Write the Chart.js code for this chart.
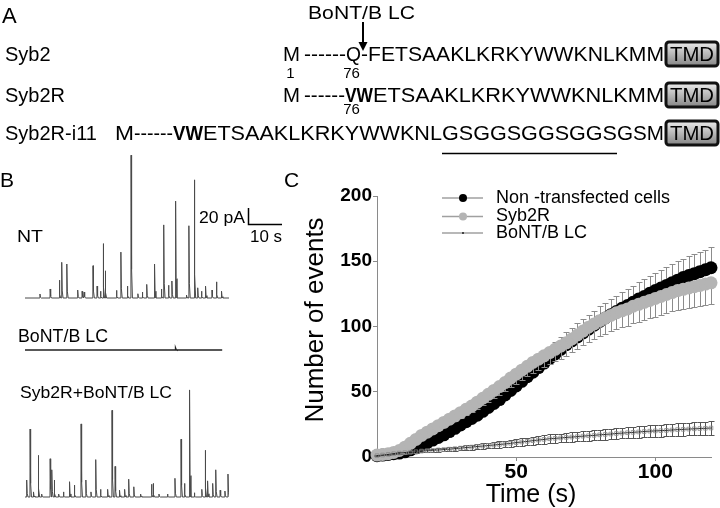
<!DOCTYPE html>
<html>
<head>
<meta charset="utf-8">
<script src="https://cdn.jsdelivr.net/npm/chart.js@4.4.1/dist/chart.umd.min.js"></script>
<style>
html, body { margin: 0; padding: 0; background: #fff; }
#fig { position: relative; width: 720px; height: 508px; overflow: hidden; }
#fig canvas { position: absolute; }
#labels { position: absolute; left: 0; top: 0; }
</style>
</head>
<body>
<div id="fig">
  <canvas id="traceNT" style="left:25px;top:150px" width="204" height="152"></canvas>
  <canvas id="traceBoNT" style="left:25px;top:340px" width="204" height="20"></canvas>
  <canvas id="traceSyb2R" style="left:25px;top:385px" width="204" height="116"></canvas>
  <canvas id="cumChart" style="left:290px;top:180px" width="430" height="328"></canvas>

  <svg id="labels" width="720" height="508" font-family="Liberation Sans, Arial, sans-serif">
    <defs>
      <linearGradient id="tmdFill" x1="0" y1="0" x2="0" y2="1">
        <stop offset="0" stop-color="#ececec"/>
        <stop offset="1" stop-color="#858585"/>
      </linearGradient>
    </defs>
    <!-- panel A: sequences -->
    <text x="2" y="23" font-size="22">A</text>
    <text x="308" y="19" font-size="19" textLength="107" lengthAdjust="spacingAndGlyphs">BoNT/B LC</text>
    <line x1="363" y1="22" x2="363" y2="44" stroke="#000" stroke-width="2"/>
    <polygon points="358.5,42 367.5,42 363,51" fill="#000"/>

    <text x="5" y="61" font-size="20">Syb2</text>
    <text x="5" y="102" font-size="20">Syb2R</text>
    <text x="5" y="140" font-size="20">Syb2R-i11</text>

    <g font-size="20">
      <text x="283" y="61" textLength="17" lengthAdjust="spacingAndGlyphs">M</text>
      <text x="304" y="61" textLength="42" lengthAdjust="spacingAndGlyphs">------</text>
      <text x="346" y="61" textLength="15" lengthAdjust="spacingAndGlyphs">Q</text>
      <text x="361" y="61" textLength="7" lengthAdjust="spacingAndGlyphs">-</text>
      <text x="368" y="61" textLength="296" lengthAdjust="spacingAndGlyphs">FETSAAKLKRKYWWKNLKMM</text>

      <text x="283" y="102" textLength="17" lengthAdjust="spacingAndGlyphs">M</text>
      <text x="304" y="102" textLength="41" lengthAdjust="spacingAndGlyphs">------</text>
      <text x="345" y="102" font-weight="bold" textLength="28" lengthAdjust="spacingAndGlyphs">VW</text>
      <text x="373" y="102" textLength="291" lengthAdjust="spacingAndGlyphs">ETSAAKLKRKYWWKNLKMM</text>

      <text x="115" y="140" textLength="19" lengthAdjust="spacingAndGlyphs">M</text>
      <text x="134" y="140" textLength="39" lengthAdjust="spacingAndGlyphs">------</text>
      <text x="173" y="140" font-weight="bold" textLength="30" lengthAdjust="spacingAndGlyphs">VW</text>
      <text x="203" y="140" textLength="239" lengthAdjust="spacingAndGlyphs">ETSAAKLKRKYWWKNL</text>
      <text x="442" y="140" textLength="175" lengthAdjust="spacingAndGlyphs">GSGGSGGSGGS</text>
      <text x="617" y="140" textLength="47" lengthAdjust="spacingAndGlyphs">GSM</text>
    </g>
    <line x1="442" y1="153.5" x2="617" y2="153.5" stroke="#000" stroke-width="1.5"/>

    <g font-size="15" text-anchor="middle">
      <text x="290.5" y="77.5">1</text>
      <text x="351.5" y="77.5">76</text>
      <text x="351.5" y="113.5">76</text>
    </g>

    <g>
      <rect x="666" y="42" width="52" height="24" rx="3" fill="url(#tmdFill)" stroke="#111" stroke-width="3"/>
      <rect x="666" y="83" width="52" height="24" rx="3" fill="url(#tmdFill)" stroke="#111" stroke-width="3"/>
      <rect x="666" y="121" width="52" height="24" rx="3" fill="url(#tmdFill)" stroke="#111" stroke-width="3"/>
      <g font-size="20" text-anchor="middle">
        <text x="692" y="61" textLength="44" lengthAdjust="spacingAndGlyphs">TMD</text>
        <text x="692" y="102" textLength="44" lengthAdjust="spacingAndGlyphs">TMD</text>
        <text x="692" y="140" textLength="44" lengthAdjust="spacingAndGlyphs">TMD</text>
      </g>
    </g>

    <!-- panel B labels and scale bar -->
    <text x="0" y="187" font-size="21">B</text>
    <text x="284" y="187" font-size="21">C</text>
    <text x="17" y="241.5" font-size="17" textLength="26" lengthAdjust="spacingAndGlyphs">NT</text>
    <text x="199" y="223" font-size="17" textLength="46" lengthAdjust="spacingAndGlyphs">20 pA</text>
    <path d="M248.5,208 V224.5 H282" fill="none" stroke="#000" stroke-width="1.5"/>
    <text x="250" y="242" font-size="17" textLength="32" lengthAdjust="spacingAndGlyphs">10 s</text>
    <text x="18" y="342" font-size="18" textLength="90" lengthAdjust="spacingAndGlyphs">BoNT/B LC</text>
    <text x="20" y="398" font-size="17" textLength="152" lengthAdjust="spacingAndGlyphs">Syb2R+BoNT/B LC</text>
  </svg>
</div>

<script>
// ---- Panel C: cumulative events (mean, SEM), every 2 s ----
const timeS = [
  0, 2, 4, 6, 8, 10, 12, 14, 16, 18,
  20, 22, 24, 26, 28, 30, 32, 34, 36, 38,
  40, 42, 44, 46, 48, 50, 52, 54, 56, 58,
  60, 62, 64, 66, 68, 70, 72, 74, 76, 78,
  80, 82, 84, 86, 88, 90, 92, 94, 96, 98,
  100, 102, 104, 106, 108, 110, 112, 114, 116, 118,
  120
];
const ntMean = [
  1, 1.5, 2, 2.5, 3, 4, 5.5, 7, 9, 11,
  13, 15, 17, 19.5, 22, 24.5, 27, 29.5, 32, 35,
  38, 41, 44, 47.5, 51, 54.5, 58, 61.5, 65, 68.5,
  72, 75.5, 79, 82.5, 86, 89, 92, 95, 98, 101,
  104, 106.5, 109, 111.5, 114, 116, 118.5, 121, 123, 125.5,
  127.5, 129.5, 131.5, 133.5, 135.5, 137.5, 139, 140.5, 142, 143.5,
  145
];
const ntSem = [
  0, 0.2, 0.4, 0.6, 0.8, 1, 1.3, 1.6, 1.9, 2.2,
  2.5, 2.8, 3.1, 3.4, 3.7, 4, 4.3, 4.6, 4.9, 5.2,
  5.5, 5.8, 6.1, 6.4, 6.7, 7, 7.3, 7.6, 7.9, 8.2,
  8.5, 8.8, 9.1, 9.4, 9.7, 10, 10.3, 10.6, 10.9, 11.2,
  11.5, 11.8, 12, 12.2, 12.4, 12.6, 12.8, 13, 13.2, 13.4,
  13.6, 13.8, 14, 14.2, 14.4, 14.6, 14.8, 15, 15.2, 15.4,
  15.6
];
const syb2rMean = [
  1.5, 2, 2.5, 3.5, 5, 7.5, 10.5, 13.5, 16.5, 19,
  21.5, 24, 26.5, 29, 31.5, 34, 36.5, 39, 42, 45,
  48, 51, 54, 57, 60.5, 63.5, 66.5, 69.5, 72.5, 75,
  77.5, 80, 82.5, 85, 87.5, 90.5, 93.5, 96.5, 99.5, 102,
  104.5, 106.5, 108.5, 110.5, 112, 113.5, 115.5, 117, 118.5, 120,
  121.5, 123, 124.5, 126, 127.5, 128.5, 129.5, 130.5, 131.5, 132.5,
  133.5
];
const syb2rSem = [
  0, 0.2, 0.4, 0.6, 0.9, 1.2, 1.5, 1.8, 2.1, 2.4,
  2.7, 3, 3.3, 3.6, 3.9, 4.2, 4.5, 4.8, 5.1, 5.4,
  5.7, 6, 6.3, 6.6, 6.9, 7.2, 7.5, 7.8, 8.1, 8.4,
  8.7, 9, 9.3, 9.6, 9.9, 10.2, 10.5, 10.8, 11.1, 11.4,
  11.7, 12, 12.3, 12.5, 12.7, 12.9, 13.1, 13.3, 13.5, 13.7,
  13.9, 14.1, 14.3, 14.5, 14.7, 14.9, 15.1, 15.3, 15.5, 15.7,
  15.9
];
const bontMean = [
  1, 1.5, 2, 2.5, 3, 3.3, 3.6, 4, 4.5, 4.8,
  5.1, 5.4, 5.7, 6, 6.4, 6.8, 7.2, 7.6, 8, 8.4,
  8.8, 9.2, 9.6, 10, 10.5, 11, 11.5, 12, 12.5, 13,
  13.5, 14, 14.3, 14.6, 15, 15.3, 15.6, 16, 16.3, 16.6,
  17, 17.3, 17.6, 18, 18.3, 18.6, 18.9, 19.2, 19.5, 19.8,
  20, 20.2, 20.4, 20.7, 21, 21.2, 21.4, 21.6, 21.8, 22,
  22.2
];
const bontSem = [
  0.2, 0.3, 0.4, 0.5, 0.6, 0.7, 0.8, 0.9, 1, 1.1,
  1.2, 1.3, 1.4, 1.5, 1.6, 1.7, 1.8, 1.9, 2, 2.1,
  2.2, 2.3, 2.4, 2.5, 2.6, 2.7, 2.8, 2.9, 3, 3.1,
  3.2, 3.25, 3.3, 3.4, 3.45, 3.5, 3.6, 3.65, 3.7, 3.8,
  3.85, 3.9, 4, 4.05, 4.1, 4.2, 4.25, 4.3, 4.4, 4.45,
  4.5, 4.6, 4.65, 4.7, 4.8, 4.85, 4.9, 5, 5.05, 5.1,
  5.2
];
const seriesNames = ['Non -transfected cells', 'Syb2R', 'BoNT/B LC'];
const yTicksStep = 50;
const xTickValues = [50, 100];
const xTitle = 'Time (s)';
const yTitle = 'Number of events';

// ---- Panel B: example current traces (event time s, amplitude pA) ----
const ntSpikeT = [4.4, 7.4, 10.1, 10.8, 12.3, 15.5, 16.8, 17.4, 20.0, 21.2, 22.2, 23.0, 23.6, 26.9, 28.2, 30.1, 31.2, 33.2, 34.5, 35.8, 38.1, 40.1, 40.8, 42.2, 43.2, 44.3, 47.5, 48.2, 49.8, 50.8, 51.9, 53.1, 55.0, 56.3, 57.8];
const ntSpikeAmp = [4.7, 10.6, 21, 42, 40, 9.4, 8, 7, 38, 14, 8, 64, 32, 9, 54, 14, 168, 5, 7, 16, 40, 10.6, 86, 15, 20, 114, 3.5, 85, 139, 12, 8, 14, 9.4, 19, 8];
const bontSpikeT = [44.3];
const bontSpikeAmp = [2];
const syb2rSpikeT = [0.5, 1.5, 2.5, 3.9, 4.9, 7.4, 7.9, 8.6, 9.9, 11.3, 13.1, 14.5, 16.5, 17.9, 19.4, 20.8, 22.2, 24.3, 25.6, 26.5, 27.8, 29.3, 30.5, 32.0, 34.0, 37.2, 37.7, 39.4, 41.9, 44.1, 45.9, 46.9, 48.4, 49.8, 52.0, 53.0, 53.7, 55.2, 56.1, 57.4, 58.8, 59.7];
const syb2rSpikeAmp = [20, 80, 6, 49, 3.5, 45, 32, 20, 3.5, 6, 18, 14, 86, 20, 6, 44, 9, 9, 102, 36, 8, 9, 21, 12, 3.5, 15, 16, 3.5, 3.5, 22, 68, 16, 126, 5, 9, 55, 19, 16, 32, 8, 7, 27];

const FONT = '"Liberation Sans", Arial, sans-serif';

// build a trace: flat baseline with fast-rise / decaying events
function traceData(times, amps, end) {
  const pts = [{x: 0, y: 0}];
  times.forEach((t, i) => {
    pts.push({x: t - 0.05, y: 0}, {x: t, y: amps[i]}, {x: t + 0.15, y: amps[i] * 0.2}, {x: t + 0.4, y: 0});
  });
  if (pts[pts.length - 1].x < end) pts.push({x: end, y: 0});
  return pts;
}

function traceChart(id, pts, yMin, yMax, color, width) {
  return new Chart(document.getElementById(id), {
    type: 'line',
    data: {datasets: [{data: pts, borderColor: color, borderWidth: width, pointRadius: 0, tension: 0, clip: false}]},
    options: {
      animation: false, responsive: false, events: [],
      layout: {padding: 0},
      plugins: {legend: {display: false}, tooltip: {enabled: false}},
      scales: {
        x: {type: 'linear', display: false, min: 0, max: 60},
        y: {display: false, min: yMin, max: yMax}
      }
    }
  });
}

// 0.85 px per pA in every trace
traceChart('traceNT', traceData(ntSpikeT, ntSpikeAmp, 60), -4.7, 174.1, '#4a4a4a', 1);
traceChart('traceBoNT', traceData(bontSpikeT, bontSpikeAmp, 58), -11.76, 11.76, '#222', 1.6);
traceChart('traceSyb2R', traceData(syb2rSpikeT, syb2rSpikeAmp, 60), -4.7, 131.8, '#4a4a4a', 1);

// error bars, drawn just before their own dataset
const errorBars = {
  id: 'errorBars',
  beforeDatasetDraw(chart, args) {
    const ds = chart.data.datasets[args.index];
    if (!ds.errUp && !ds.errDown) return;
    const {ctx, scales: {x, y}} = chart;
    ctx.save();
    ctx.strokeStyle = ds.errColor;
    ctx.lineWidth = 1;
    ds.data.forEach((p, i) => {
      const px = Math.round(x.getPixelForValue(p.x)) + 0.5;
      const py = y.getPixelForValue(p.y);
      const ends = [];
      if (ds.errUp) ends.push(p.y + ds.errUp[i]);
      if (ds.errDown) ends.push(p.y - ds.errDown[i]);
      ends.forEach(v => {
        const ey = Math.round(y.getPixelForValue(v)) + 0.5;
        ctx.beginPath();
        ctx.moveTo(px, py);
        ctx.lineTo(px, ey);
        ctx.moveTo(px - 3, ey);
        ctx.lineTo(px + 3, ey);
        ctx.stroke();
      });
    });
    ctx.restore();
  }
};

// axis titles and legend
const figText = {
  id: 'figText',
  afterDraw(chart) {
    const {ctx} = chart;
    ctx.save();
    ctx.fillStyle = '#000';
    ctx.textBaseline = 'middle';
    ctx.textAlign = 'center';
    ctx.font = '26px ' + FONT;
    ctx.save();
    ctx.translate(26, 140);
    ctx.rotate(-Math.PI / 2);
    ctx.fillText(yTitle, 0, 0);
    ctx.restore();
    ctx.font = '25px ' + FONT;
    ctx.fillText(xTitle, 241, 315);

    // legend
    const rows = [18, 36.5, 53];
    ctx.textAlign = 'left';
    ctx.font = '18px ' + FONT;
    chart.data.datasets.forEach((ds, i) => {
      const ry = rows[i];
      ctx.strokeStyle = ds.legendLine;
      ctx.lineWidth = 1.5;
      ctx.beginPath();
      ctx.moveTo(152, ry);
      ctx.lineTo(193, ry);
      ctx.stroke();
      ctx.fillStyle = ds.pointBackgroundColor;
      if (ds.pointStyle === 'circle') {
        ctx.beginPath();
        ctx.arc(173, ry, 4, 0, Math.PI * 2);
        ctx.fill();
      } else {
        ctx.fillStyle = '#444';
        ctx.fillRect(172, ry - 1, 2, 2);
      }
      ctx.fillStyle = '#000';
      ctx.fillText(ds.label, 206, ry);
    });
    ctx.restore();
  }
};

const toXY = arr => timeS.map((t, i) => ({x: t, y: arr[i]}));

new Chart(document.getElementById('cumChart'), {
  type: 'line',
  data: {
    datasets: [
      {
        label: seriesNames[0], data: toXY(ntMean), errUp: ntSem, errColor: '#8c8c8c',
        borderColor: '#a0a0a0', borderWidth: 1, pointStyle: 'circle', pointRadius: 6.5,
        pointBackgroundColor: '#000', pointBorderColor: '#000', pointBorderWidth: 0,
        legendLine: '#a0a0a0', order: 2, clip: false
      },
      {
        label: seriesNames[1], data: toXY(syb2rMean), errDown: syb2rSem, errColor: '#8c8c8c',
        borderColor: '#a0a0a0', borderWidth: 1, pointStyle: 'circle', pointRadius: 6.5,
        pointBackgroundColor: '#b4b4b4', pointBorderColor: '#b4b4b4', pointBorderWidth: 0,
        legendLine: '#a0a0a0', order: 1, clip: false
      },
      {
        label: seriesNames[2], data: toXY(bontMean), errUp: bontSem, errDown: bontSem, errColor: '#555',
        borderColor: '#222', borderWidth: 1, pointStyle: 'rect', pointRadius: 2.6,
        pointBackgroundColor: 'rgba(0,0,0,0)', pointBorderColor: '#8a8a8a', pointBorderWidth: 0.8,
        legendLine: '#a0a0a0', order: 0, clip: false
      }
    ]
  },
  options: {
    animation: false, responsive: false, events: [],
    layout: {padding: {top: 16, right: 9, left: 0, bottom: 0}},
    plugins: {legend: {display: false}, tooltip: {enabled: false}},
    scales: {
      x: {
        type: 'linear', min: 0, max: 120,
        afterBuildTicks: s => { s.ticks = xTickValues.map(v => ({value: v})); },
        afterFit: s => { s.height = 51; },
        border: {display: true, color: '#8a8a8a', width: 1},
        grid: {drawOnChartArea: false, drawTicks: true, tickLength: 4, color: '#8a8a8a'},
        ticks: {color: '#000', padding: -1, maxRotation: 0, font: {family: FONT, size: 21, weight: 'bold'}}
      },
      y: {
        min: 0, max: 200,
        afterFit: s => { s.width = 87; },
        border: {display: true, color: '#8a8a8a', width: 1},
        grid: {drawOnChartArea: false, drawTicks: true, tickLength: 4, color: '#8a8a8a'},
        ticks: {stepSize: yTicksStep, color: '#000', padding: 1, font: {family: FONT, size: 19, weight: 'bold'}}
      }
    }
  },
  plugins: [errorBars, figText]
});
</script>
</body>
</html>
